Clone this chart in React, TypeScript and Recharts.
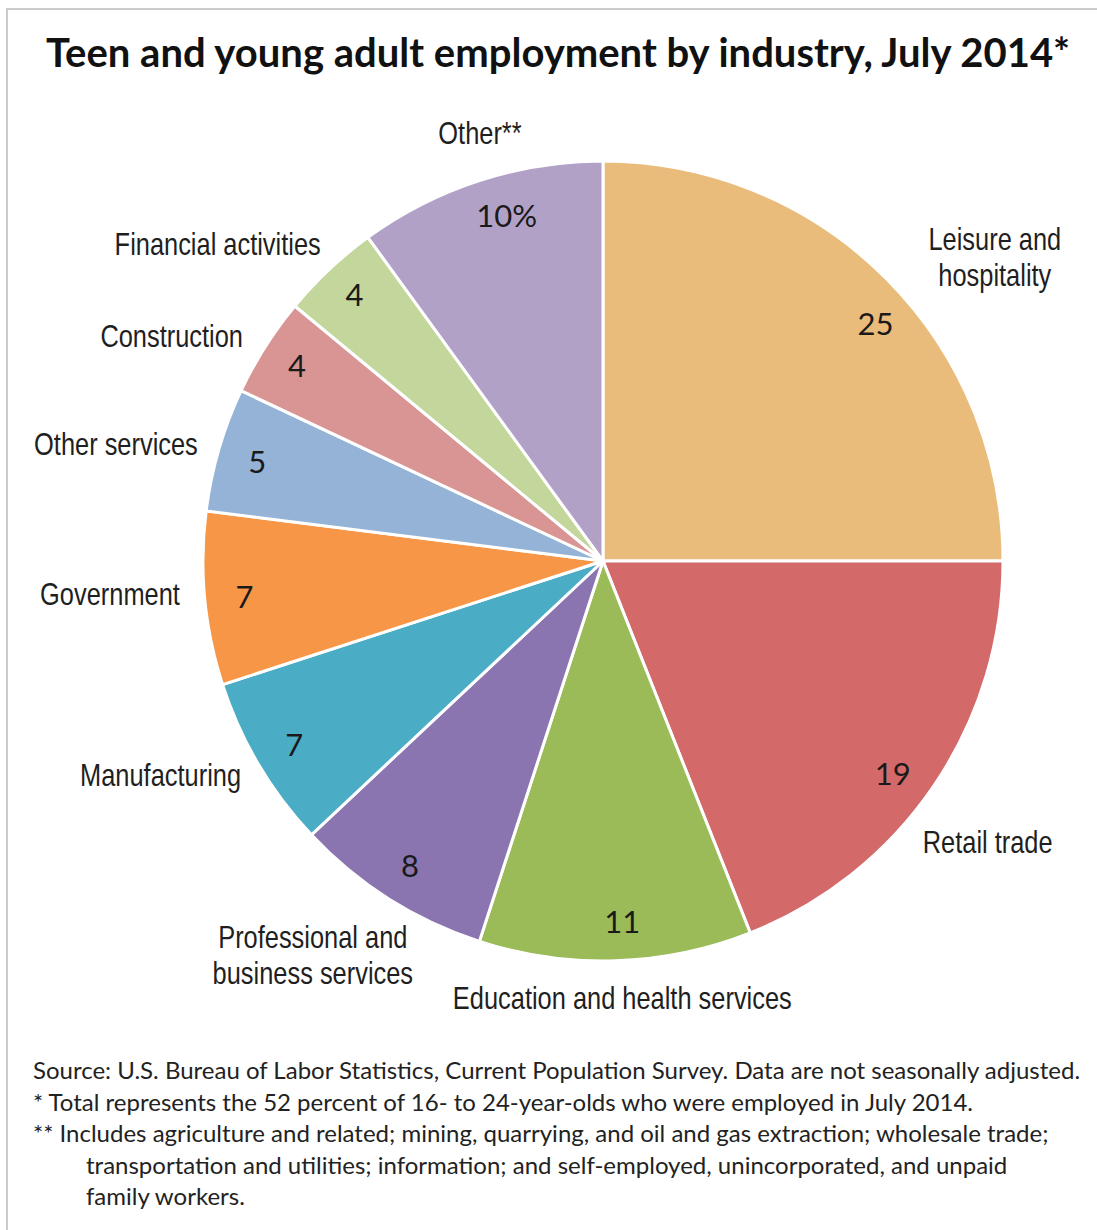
import { PieChart, Pie, Cell } from "recharts";

const industries = [
  "Leisure and\nhospitality",
  "Retail trade",
  "Education and health services",
  "Professional and\nbusiness services",
  "Manufacturing",
  "Government",
  "Other services",
  "Construction",
  "Financial activities",
  "Other**",
];

const shares = [25, 19, 11, 8, 7, 7, 5, 4, 4, 10];

const COLORS = [
  "#E9BC7B",
  "#D4696A",
  "#9BBB59",
  "#8B75B0",
  "#4BACC6",
  "#F79646",
  "#95B3D7",
  "#D99594",
  "#C3D69B",
  "#B2A1C7",
];

const notes = [
  "Source: U.S. Bureau of Labor Statistics, Current Population Survey. Data are not seasonally adjusted.",
  "* Total represents the 52 percent of 16- to 24-year-olds who were employed in July 2014.",
  "** Includes agriculture and related; mining, quarrying, and oil and gas extraction; wholesale trade;",
  "transportation and utilities; information; and self-employed, unincorporated, and unpaid",
  "family workers.",
];

const data = industries.map((name, i) => ({ name, value: shares[i] }));

// hand placement of outer labels, relative to a point just outside the rim
const labelNudge: { dx: number; dy: number; anchor: "start" | "middle" | "end" }[] = [
  { dx: 92, dy: -4, anchor: "middle" },
  { dx: 34, dy: 43, anchor: "middle" },
  { dx: 6, dy: 13, anchor: "middle" },
  { dx: -63, dy: 36, anchor: "middle" },
  { dx: 3, dy: -2, anchor: "end" },
  { dx: -1, dy: -7, anchor: "end" },
  { dx: 2, dy: 1, anchor: "end" },
  { dx: -2, dy: 2, anchor: "end" },
  { dx: 8, dy: -8, anchor: "end" },
  { dx: 8, dy: -25, anchor: "middle" },
];

// small tweaks for the numbers inside the slices
const valueNudge = [
  [18, 17],
  [-8, 10],
  [8, 0],
  [0, 0],
  [1, 0],
  [0, 1],
  [0, 0],
  [-2, -3],
  [-2, -5],
  [15, -4],
];

const RAD = Math.PI / 180;
const NAME_FONT = "'Liberation Sans', Arial, sans-serif";

const renderLabel = (props: any) => {
  const { cx, cy, midAngle, outerRadius, index, name, value } = props;
  const cos = Math.cos(-midAngle * RAD);
  const sin = Math.sin(-midAngle * RAD);
  const vr = outerRadius * 0.9;
  const vx = cx + vr * cos + valueNudge[index][0];
  const vy = cy + vr * sin + valueNudge[index][1];
  const nr = outerRadius + 24;
  const nudge = labelNudge[index];
  const nx = cx + nr * cos + nudge.dx;
  const ny = cy + nr * sin + nudge.dy;
  const lines = String(name).split("\n");
  const lineH = 36;
  const startY = ny - ((lines.length - 1) * lineH) / 2;
  return (
    <g key={`lbl-${index}`}>
      <text
        x={vx}
        y={vy}
        textAnchor="middle"
        dominantBaseline="central"
        fontFamily="Lato, sans-serif"
        fontSize={31}
        fill="#1a1a1a"
      >
        {index === shares.length - 1 ? `${value}%` : value}
      </text>
      <text
        transform={`translate(${nx},${startY}) scale(0.82,1)`}
        x={0}
        y={0}
        textAnchor={nudge.anchor}
        dominantBaseline="central"
        fontFamily={NAME_FONT}
        fontSize={31}
        fill="#1f1f1f"
      >
        {lines.map((l, i) => (
          <tspan key={i} x={0} dy={i === 0 ? 0 : lineH}>
            {l}
          </tspan>
        ))}
      </text>
    </g>
  );
};

export default function App() {
  return (
    <div style={{ position: "relative", width: 1097, height: 1230, background: "#fff" }}>
      <style>{`body{margin:0}`}</style>
      <div
        style={{
          position: "absolute",
          left: 6,
          top: 8,
          right: 0,
          bottom: 0,
          borderTop: "2px solid #cccccc",
          borderLeft: "2px solid #cccccc",
        }}
      />
      <div
        style={{
          position: "absolute",
          left: 0,
          width: 1116,
          top: 26,
          textAlign: "center",
          fontFamily: "Lato, sans-serif",
          fontWeight: 700,
          fontSize: 40,
          lineHeight: "52px",
          color: "#111",
          whiteSpace: "nowrap",
        }}
      >
        Teen and young adult employment by industry, July 2014*
      </div>
      <div style={{ position: "absolute", left: 0, top: 0 }}>
        <PieChart width={1097} height={1040} margin={{ top: 0, right: 0, bottom: 0, left: 0 }}>
          <Pie
            data={data}
            dataKey="value"
            nameKey="name"
            cx={603}
            cy={561}
            outerRadius={400}
            startAngle={90}
            endAngle={-270}
            stroke="#ffffff"
            strokeWidth={3}
            label={renderLabel}
            labelLine={false}
            isAnimationActive={false}
          >
            {data.map((d, i) => (
              <Cell key={d.name} fill={COLORS[i]} />
            ))}
          </Pie>
        </PieChart>
      </div>
      <div
        style={{
          position: "absolute",
          left: 33,
          top: 1054,
          fontFamily: "Lato, sans-serif",
          fontSize: 24,
          lineHeight: "31.5px",
          color: "#222",
        }}
      >
        {notes.map((n, i) => (
          <div key={i} style={{ paddingLeft: i >= 3 ? 53 : 0, whiteSpace: "nowrap" }}>
            {n}
          </div>
        ))}
      </div>
    </div>
  );
}
